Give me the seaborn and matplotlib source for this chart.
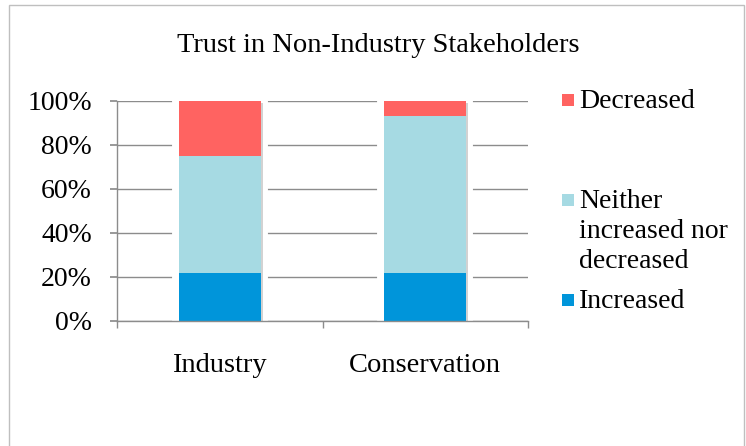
import matplotlib
matplotlib.use("Agg")
import matplotlib.pyplot as plt
import matplotlib.patheffects as pe
from matplotlib.patches import Rectangle
from matplotlib.ticker import FixedLocator, PercentFormatter
import seaborn as sns
import pandas as pd

# values (percent of respondents)
groups = ["Industry", "Conservation"]
increased = [22, 22]
neither = [53, 71]
decreased = [25, 7]
series_labels = ["Decreased", "Neither\nincreased nor\ndecreased", "Increased"]
yticks = [0, 20, 40, 60, 80, 100]

RED = "#FF6361"
LIGHT = "#A6DAE3"
BLUE = "#0095DA"
GRID = "#8C8C8C"

sns.set_theme(style="white")
plt.rcParams["font.family"] = ["Liberation Serif", "DejaVu Serif"]

W, H = 746, 446
fig = plt.figure(figsize=(W / 100, H / 100), dpi=100)
ax = fig.add_axes([117 / W, 1 - 321 / H, 411 / W, 220.3 / H])

df = pd.DataFrame({"group": groups, "inc": increased, "nei": neither, "dec": decreased})
df["mid"] = df["inc"] + df["nei"]
df["top"] = df["mid"] + df["dec"]

# stacked bars: draw cumulative totals from the back to the front
n0 = len(ax.patches)
sns.barplot(data=df, x="group", y="top", color=RED, saturation=1, width=0.4, ax=ax)
top_bars = ax.patches[n0:]
sns.barplot(data=df, x="group", y="mid", color=LIGHT, saturation=1, width=0.4, ax=ax)
sns.barplot(data=df, x="group", y="inc", color=BLUE, saturation=1, width=0.4, ax=ax)

# white glow + soft shadow like the Excel original
for p in top_bars:
    p.set_path_effects([pe.Stroke(linewidth=10, foreground="white"),
                        pe.SimplePatchShadow(offset=(1.5, -1.5), shadow_rgbFace="gray", alpha=0.35),
                        pe.Normal()])
for p in ax.patches:
    p.set_edgecolor("none")

ax.set_xlim(-0.5, 1.5)
ax.set_ylim(0, 100)
ax.set_yticks(yticks)
ax.yaxis.set_major_formatter(PercentFormatter(decimals=0))
ax.set_xlabel("")
ax.set_ylabel("")

ax.set_axisbelow(True)
ax.yaxis.grid(True, color=GRID, lw=1)
ax.xaxis.grid(False)
for s in ["top", "right"]:
    ax.spines[s].set_visible(False)
for s in ["left", "bottom"]:
    ax.spines[s].set_color(GRID)
    ax.spines[s].set_linewidth(1)

ax.xaxis.set_minor_locator(FixedLocator([-0.5, 0.5, 1.5]))
ax.tick_params(axis="x", which="major", length=0, pad=23, labelsize=20.5, labelcolor="black")
ax.tick_params(axis="x", which="minor", bottom=True, length=5, color=GRID, direction="out")
ax.tick_params(axis="y", which="major", left=True, length=5, color=GRID, direction="out",
               pad=13, labelsize=20, labelcolor="black")

fig.text(0.507, 1 - 46 / H, "Trust in Non-Industry Stakeholders", ha="center", va="center",
         fontsize=20.5, color="black")

# legend, drawn by hand to keep the Excel layout
legend_colors = [RED, LIGHT, BLUE]
legend_y = [100, 200, 300]
for lab, col, yc in zip(series_labels, legend_colors, legend_y):
    fig.add_artist(Rectangle((562 / W, 1 - (yc + 6) / H), 12 / W, 12 / H,
                             transform=fig.transFigure, facecolor=col, edgecolor="none"))
    fig.text(579 / W, 1 - (yc - 11) / H, lab, ha="left", va="top", fontsize=20,
             color="black", linespacing=1.26)

# chart frame
fig.add_artist(Rectangle((9 / W, -0.05), 735 / W, 1.05 - 5 / H, transform=fig.transFigure,
                         fill=False, edgecolor="#BFBFBF", lw=1))

fig.savefig("out.png", dpi=100)
